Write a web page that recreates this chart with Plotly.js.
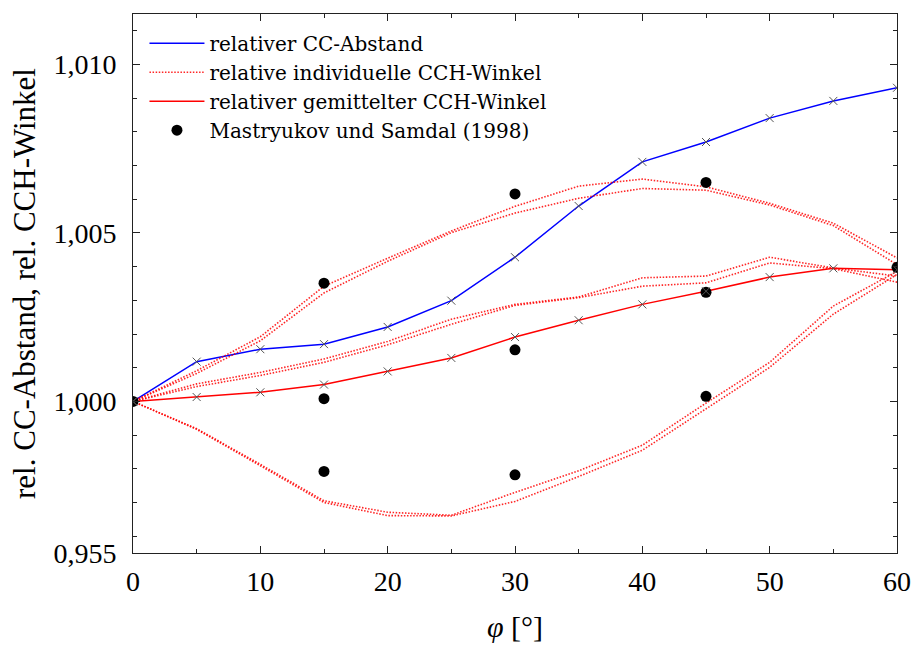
<!DOCTYPE html>
<html>
<head>
<meta charset="utf-8">
<script src="https://cdn.plot.ly/plotly-3.0.1.min.js"></script>
<style>html,body{margin:0;padding:0;background:#fff;}#chart{width:914px;height:645px;}</style>
</head>
<body>
<div id="chart"></div>
<script>
// Torsion angle phi (degrees)
const phi = [0, 5, 10, 15, 20, 25, 30, 35, 40, 45, 50, 55, 60];

// relativer CC-Abstand
const ccDistance = [1.0000, 1.00118, 1.00155, 1.00170, 1.00221, 1.00299, 1.00428, 1.00580, 1.00711, 1.00770, 1.00841, 1.00892, 1.00931];
// relativer gemittelter CCH-Winkel
const cchMean = [1.0000, 1.00013, 1.00027, 1.00050, 1.00089, 1.00129, 1.00191, 1.00241, 1.00288, 1.00327, 1.00369, 1.00395, 1.00391];

// relative individuelle CCH-Winkel (six angles)
const cch1 = [1.0000, 1.00091, 1.00192, 1.00342, 1.00425, 1.00506, 1.00579, 1.00639, 1.00660, 1.00637, 1.00588, 1.00529, 1.00426];
const cch2 = [1.0000, 1.00083, 1.00180, 1.00322, 1.00416, 1.00501, 1.00559, 1.00603, 1.00632, 1.00627, 1.00583, 1.00522, 1.00406];
const cch3 = [1.0000, 1.00052, 1.00086, 1.00126, 1.00178, 1.00244, 1.00288, 1.00310, 1.00367, 1.00372, 1.00428, 1.00396, 1.00372];
const cch4 = [1.0000, 1.00044, 1.00077, 1.00116, 1.00168, 1.00229, 1.00285, 1.00308, 1.00342, 1.00352, 1.00411, 1.00394, 1.00354];
const cch5 = [1.0000, 0.99919, 0.99813, 0.99705, 0.99671, 0.99662, 0.99730, 0.99794, 0.99870, 0.99995, 1.00116, 1.00283, 1.00386];
const cch6 = [1.0000, 0.99917, 0.99809, 0.99700, 0.99661, 0.99660, 0.99703, 0.99777, 0.99855, 0.99978, 1.00101, 1.00259, 1.00377];
const cchIndividual = [cch1, cch2, cch3, cch4, cch5, cch6];

// Mastryukov und Samdal (1998)
const expPhi = [0, 15, 15, 15, 30, 30, 30, 45, 45, 45, 60];
const expVal = [1.0000, 1.00351, 1.00008, 0.99792, 1.00616, 1.00153, 0.99782, 1.00650, 1.00324, 1.00015, 1.00398];

// Axis ticks
const xTicks = [0, 10, 20, 30, 40, 50, 60];
const yTickVals = [0.9955, 1.000, 1.005, 1.010];
const yTickText = ['0,955', '1,000', '1,005', '1,010'];
const yRange = [0.9955, 1.0115];

const FONT = 'Liberation Serif, Times New Roman, serif';
const LEGFONT = 'DejaVu Serif, serif';
const traces = [];

traces.push({x: phi, y: ccDistance, type: 'scatter', mode: 'lines', name: 'relativer CC-Abstand',
  line: {color: '#0000ff', width: 1.5}});

cchIndividual.forEach((s, i) => {
  traces.push({x: phi, y: s, type: 'scatter', mode: 'lines', name: 'relative individuelle CCH-Winkel',
    legendgroup: 'ind', showlegend: i === 0,
    line: {color: 'rgba(255,0,0,0.85)', width: 1.6, dash: '1.5px,1.6px'}});
});

traces.push({x: phi, y: cchMean, type: 'scatter', mode: 'lines', name: 'relativer gemittelter CCH-Winkel',
  line: {color: '#ff0000', width: 1.5}});

traces.push({x: expPhi, y: expVal, type: 'scatter', mode: 'markers', name: 'Mastryukov und Samdal (1998)',
  marker: {color: '#000', size: 11, symbol: 'circle'}});

// data point crosses on the computed curves
[ccDistance, cchMean].forEach(s => {
  traces.push({x: phi, y: s, type: 'scatter', mode: 'markers', showlegend: false, hoverinfo: 'skip',
    marker: {symbol: 'x-thin', size: 8, color: '#555', line: {color: '#555', width: 1}}});
});

const layout = {
  width: 914, height: 645,
  margin: {l: 133, r: 17, t: 14, b: 92},
  paper_bgcolor: '#fff', plot_bgcolor: '#fff',
  font: {family: FONT, color: '#000', size: 22},
  showlegend: true,
  legend: {x: 0.015, y: 0.982, xanchor: 'left', yanchor: 'top', bgcolor: 'rgba(0,0,0,0)',
    font: {family: LEGFONT, size: 20, color: '#000'}, itemwidth: 55, tracegroupgap: 0},
  xaxis: {
    range: [0, 60], tickmode: 'array', tickvals: xTicks,
    ticks: 'inside', ticklen: 7, tickcolor: '#222', tickwidth: 1,
    minor: {dtick: 5, tick0: 0, ticks: 'inside', ticklen: 4, tickcolor: '#222'},
    showline: true, linecolor: '#222', linewidth: 1, mirror: 'ticks',
    showgrid: false, zeroline: false,
    tickfont: {family: FONT, size: 28, color: '#000'},
    ticklabelstandoff: 3,
    title: {text: '<i>φ</i> [°]', font: {family: FONT, size: 30, color: '#000'}, standoff: 20}
  },
  yaxis: {
    range: yRange, tickmode: 'array', tickvals: yTickVals, ticktext: yTickText,
    ticks: 'inside', ticklen: 7, tickcolor: '#222', tickwidth: 1,
    minor: {dtick: 0.001, tick0: 1.0, ticks: 'inside', ticklen: 4, tickcolor: '#222'},
    showline: true, linecolor: '#222', linewidth: 1, mirror: 'ticks',
    showgrid: false, zeroline: false,
    tickfont: {family: FONT, size: 28, color: '#000'},
    ticklabelstandoff: 10,
    title: {text: 'rel. CC-Abstand, rel. CCH-Winkel', font: {family: FONT, size: 31, color: '#000'}, standoff: 8}
  }
};

Plotly.newPlot('chart', traces, layout, {displayModeBar: false, staticPlot: true});
</script>
</body>
</html>
